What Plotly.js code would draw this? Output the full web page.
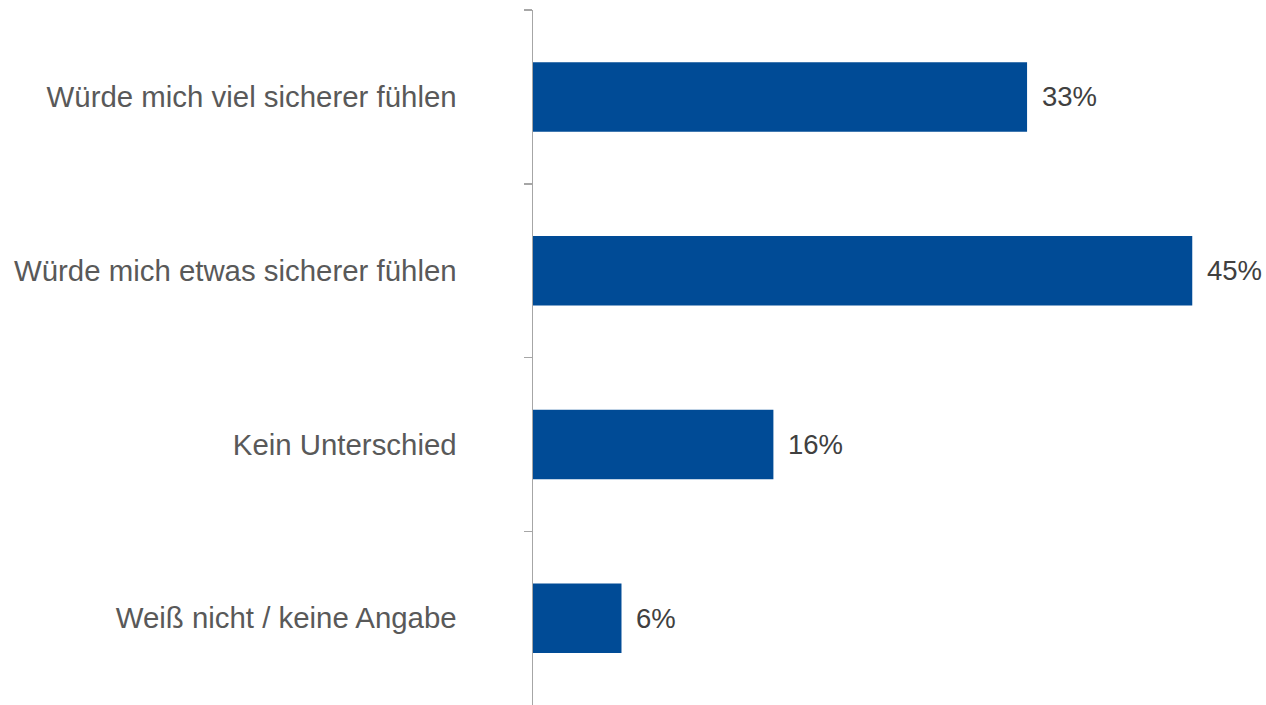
<!DOCTYPE html>
<html>
<head>
<meta charset="utf-8">
<script src="https://cdn.plot.ly/plotly-3.0.1.min.js"></script>
<style>html,body{margin:0;padding:0;background:#fff;}#chart{width:1266px;height:705px;}</style>
</head>
<body>
<div id="chart"></div>
<script>
const categories = [
  "Würde mich viel sicherer fühlen",
  "Würde mich etwas sicherer fühlen",
  "Kein Unterschied",
  "Weiß nicht / keine Angabe"
];
const values = [33.5, 44.7, 16.3, 6.0];
const valueLabels = ["33%", "45%", "16%", "6%"];

const trace = {
  type: "bar",
  orientation: "h",
  x: values,
  y: categories,
  width: 0.4,
  marker: {color: "#004B96"},
  hoverinfo: "skip"
};

const annotations = values.map((v, i) => ({
  x: v, y: categories[i], xref: "x", yref: "y",
  text: valueLabels[i], showarrow: false,
  xanchor: "left", xshift: 13,
  font: {family: "Liberation Sans, Arial, sans-serif", size: 27.5, color: "#404040"}
}));

const layout = {
  width: 1266, height: 705,
  margin: {l: 533, r: 0, t: 10, b: 0},
  paper_bgcolor: "#fff", plot_bgcolor: "#fff",
  showlegend: false,
  xaxis: {range: [0, 49.7], visible: false, fixedrange: true},
  yaxis: {
    autorange: "reversed",
    showline: true, linecolor: "#A6A6A6", linewidth: 1.5,
    ticks: "outside", tickson: "boundaries", ticklen: 8, tickcolor: "#A6A6A6", tickwidth: 1.5,
    showgrid: false, zeroline: false,
    ticklabelstandoff: 69,
    tickfont: {family: "Liberation Sans, Arial, sans-serif", size: 29.4, color: "#595959"}
  },
  annotations: annotations
};

Plotly.newPlot("chart", [trace], layout, {displayModeBar: false, staticPlot: true});
</script>
</body>
</html>
